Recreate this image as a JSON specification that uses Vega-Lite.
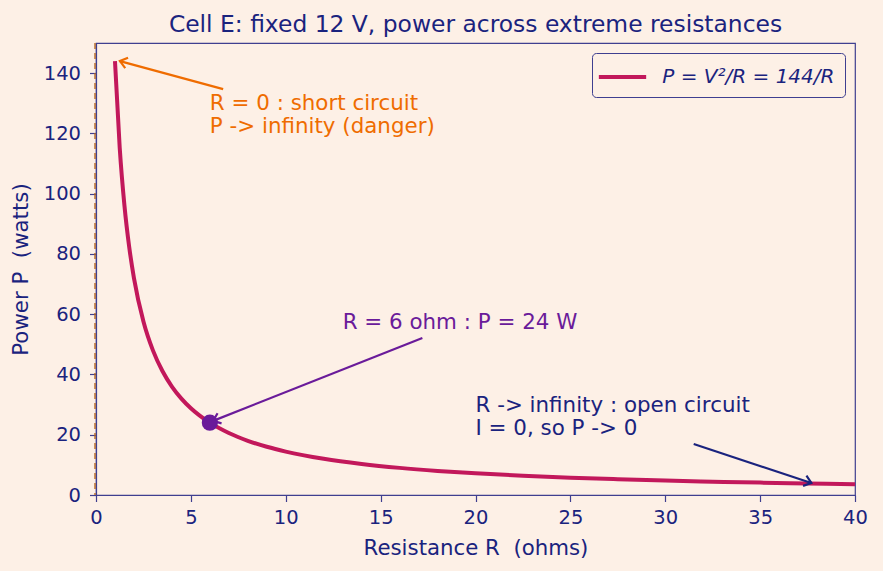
{
  "$schema": "https://vega.github.io/schema/vega-lite/v6.json",
  "width": 759,
  "height": 452,
  "autosize": {"type": "none"},
  "padding": {"left": 96, "top": 43, "right": 28, "bottom": 76},
  "background": "#fdf0e6",
  "title": {
    "text": "Cell E: fixed 12 V, power across extreme resistances",
    "font": "DejaVu Sans",
    "fontSize": 23.4,
    "fontWeight": "normal",
    "color": "#1a237e",
    "anchor": "middle",
    "offset": 5
  },
  "config": {
    "font": "DejaVu Sans",
    "view": {"stroke": "#3f3f90", "strokeWidth": 1.2},
    "axis": {
      "grid": false,
      "labelFlush": false,
      "domainColor": "#3f3f90",
      "domainWidth": 1.2,
      "tickColor": "#3f3f90",
      "tickWidth": 1.2,
      "tickSize": 6.5,
      "labelColor": "#1a237e",
      "labelFont": "DejaVu Sans",
      "labelFontSize": 19.5,
      "titleColor": "#1a237e",
      "titleFont": "DejaVu Sans",
      "titleFontSize": 21.3,
      "titleFontWeight": "normal"
    }
  },
  "datasets": {
    "curve": [
      {"R": 1, "P": 144},
      {"R": 1.25, "P": 115.2},
      {"R": 1.5, "P": 96},
      {"R": 1.75, "P": 82.29},
      {"R": 2, "P": 72},
      {"R": 2.5, "P": 57.6},
      {"R": 3, "P": 48},
      {"R": 3.5, "P": 41.14},
      {"R": 4, "P": 36},
      {"R": 4.5, "P": 32},
      {"R": 5, "P": 28.8},
      {"R": 6, "P": 24},
      {"R": 7, "P": 20.57},
      {"R": 8, "P": 18},
      {"R": 9, "P": 16},
      {"R": 10, "P": 14.4},
      {"R": 12, "P": 12},
      {"R": 14, "P": 10.29},
      {"R": 16, "P": 9},
      {"R": 18, "P": 8},
      {"R": 20, "P": 7.2},
      {"R": 22.5, "P": 6.4},
      {"R": 25, "P": 5.76},
      {"R": 27.5, "P": 5.24},
      {"R": 30, "P": 4.8},
      {"R": 32.5, "P": 4.43},
      {"R": 35, "P": 4.11},
      {"R": 37.5, "P": 3.84},
      {"R": 40, "P": 3.6}
    ],
    "arrows": [
      {"who": "short", "tx": 6.7, "ty": 134.7, "hx": 1.26, "hy": 144.0},
      {"who": "mid", "tx": 17.2, "ty": 52.1, "hx": 6.17, "hy": 24.6},
      {"who": "open", "tx": 31.5, "ty": 16.9, "hx": 37.7, "hy": 4.0}
    ],
    "notes": [
      {"who": "short", "x": 6.0, "y": 129.8, "line": "R = 0 : short circuit"},
      {"who": "short", "x": 6.0, "y": 122.1, "line": "P -> infinity (danger)"},
      {"who": "mid", "x": 13.0, "y": 57.1, "line": "R = 6 ohm : P = 24 W"},
      {"who": "open", "x": 20.0, "y": 29.5, "line": "R -> infinity : open circuit"},
      {"who": "open", "x": 20.0, "y": 21.9, "line": "I = 0, so P -> 0"}
    ]
  },
  "layer": [
    {
      "data": {"values": [{"R": 0}]},
      "mark": {"type": "rule", "color": "#b5651d", "strokeWidth": 1.6, "strokeDash": [6, 4], "opacity": 0.85, "xOffset": -1},
      "encoding": {
        "x": {"field": "R", "type": "quantitative", "scale": {"domain": [0, 40]}}
      }
    },
    {
      "data": {"name": "curve"},
      "transform": [{"calculate": "'P = V²/R = 144/R'", "as": "series"}],
      "mark": {"type": "line", "strokeWidth": 4, "interpolate": "monotone"},
      "encoding": {
        "x": {
          "field": "R", "type": "quantitative",
          "scale": {"domain": [0, 40], "nice": false, "zero": false},
          "axis": {"title": "Resistance R\u00a0 (ohms)", "values": [0, 5, 10, 15, 20, 25, 30, 35, 40], "labelPadding": 7, "titlePadding": 10}
        },
        "y": {
          "field": "P", "type": "quantitative",
          "scale": {"domain": [0, 150], "nice": false},
          "axis": {"title": "Power P\u00a0 (watts)", "values": [0, 20, 40, 60, 80, 100, 120, 140], "labelPadding": 9, "titlePadding": 12}
        },
        "color": {
          "field": "series", "type": "nominal",
          "scale": {"range": ["#c2185b"]},
          "legend": {
            "title": null,
            "orient": "top-right",
            "offset": 10,
            "symbolType": "M-2,0H2",
            "symbolSize": 560,
            "symbolOffset": 6.5,
            "symbolStrokeWidth": 4,
            "symbolFillColor": "transparent",
            "labelFont": "DejaVu Sans",
            "labelFontStyle": "italic",
            "labelFontSize": 20,
            "labelColor": "#1a237e",
            "labelLimit": 300,
            "labelOffset": 25.8,
            "strokeColor": "#3f3f90",
            "fillColor": "#fdf0e6",
            "cornerRadius": 4,
            "padding": 10
          }
        }
      }
    },
    {
      "data": {"values": [{"R": 6, "P": 24}]},
      "mark": {"type": "point", "filled": true, "size": 260, "color": "#6a1b9a", "opacity": 1},
      "encoding": {
        "x": {"field": "R", "type": "quantitative"},
        "y": {"field": "P", "type": "quantitative"}
      }
    },
    {
      "data": {"name": "arrows"},
      "mark": {"type": "rule", "strokeWidth": 2.2},
      "encoding": {
        "x": {"field": "tx", "type": "quantitative"},
        "y": {"field": "ty", "type": "quantitative"},
        "x2": {"field": "hx"},
        "y2": {"field": "hy"},
        "stroke": {
          "field": "who", "type": "nominal",
          "scale": {"domain": ["short", "mid", "open"], "range": ["#ef6c00", "#6a1b9a", "#1a237e"]},
          "legend": null
        }
      }
    },
    {
      "data": {"name": "arrows"},
      "transform": [
        {"calculate": "atan2((datum.hx - datum.tx) * 18.975, (datum.hy - datum.ty) * 3.0133) * 180 / PI", "as": "ang"}
      ],
      "mark": {"type": "point", "shape": "M-0.7,0.9L0,0L0.7,0.9", "filled": false, "size": 240, "strokeWidth": 2.2, "opacity": 1},
      "encoding": {
        "x": {"field": "hx", "type": "quantitative"},
        "y": {"field": "hy", "type": "quantitative"},
        "angle": {"field": "ang", "type": "quantitative", "scale": null},
        "stroke": {"field": "who", "type": "nominal", "legend": null}
      }
    },
    {
      "data": {"name": "notes"},
      "mark": {"type": "text", "align": "left", "baseline": "middle", "font": "DejaVu Sans", "fontSize": 21.4},
      "encoding": {
        "x": {"field": "x", "type": "quantitative"},
        "y": {"field": "y", "type": "quantitative"},
        "text": {"field": "line"},
        "fill": {
          "field": "who", "type": "nominal",
          "scale": {"domain": ["short", "mid", "open"], "range": ["#ef6c00", "#6a1b9a", "#1a237e"]},
          "legend": null
        }
      }
    }
  ]
}
